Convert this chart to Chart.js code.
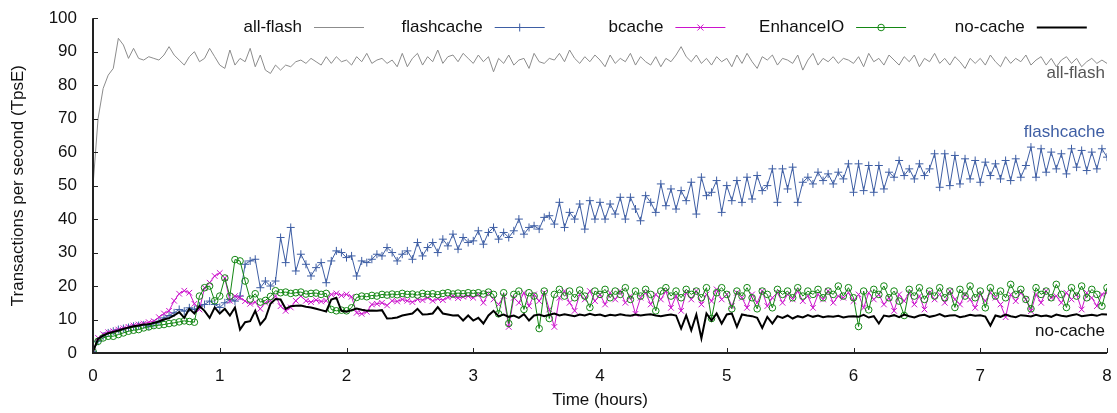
<!DOCTYPE html>
<html>
<head>
<meta charset="utf-8">
<script src="https://cdn.jsdelivr.net/npm/chart.js@4/dist/chart.umd.min.js"></script>
<style>
  html, body { margin: 0; padding: 0; background: #fff; }
  #wrap { width: 1117px; height: 413px; }
</style>
</head>
<body>
<div id="wrap"><canvas id="chart" width="1117" height="413"></canvas></div>
<script>
// sampling interval of the run, in hours (one row below = one hour)
const STEP_HOURS = 0.04;
const X_TICKS = [0, 1, 2, 3, 4, 5, 6, 7, 8];
const Y_TICKS = [0, 10, 20, 30, 40, 50, 60, 70, 80, 90, 100];

const allFlash = [
    50, 70, 79, 83, 85, 94, 92, 88, 91, 88, 87.5, 88.5, 88, 87.5, 89, 91.5, 89, 87.5, 86, 88.5, 90, 87, 88, 91, 88.5,
    86, 85, 90.5, 86, 88, 87, 91, 85.5, 89, 84.5, 83.5, 86, 84.5, 86, 85.5, 87, 87.5, 86.5, 88, 87, 86, 88.5, 86.5, 88.5, 87,
    87.5, 86, 88.5, 87, 89.5, 86.5, 87.5, 88, 86.5, 87.5, 85.5, 89.5, 85.5, 88, 89.5, 86, 88.5, 87, 90.5, 86.5, 88.5, 89, 87, 89.5, 88,
    86.5, 89, 87, 88.5, 84, 88, 86.5, 89, 86, 87.5, 88, 85, 89.5, 87, 86.5, 88, 87.5, 89.5, 87, 90.5, 88, 86.5, 88.5, 87, 89,
    87.5, 85.5, 89, 86.5, 88, 87, 89.5, 86, 88.5, 87, 86, 88.5, 85.5, 88, 87, 89, 91.5, 88.5, 87, 89, 86.5, 88, 86, 88.5, 87,
    88, 85.5, 89, 86.5, 89.5, 87, 85, 88.5, 87.5, 89, 86, 88, 87.5, 86.5, 89, 84.5, 87.5, 89.5, 86, 88, 87, 88.5, 86.5, 88, 87.5,
    86.5, 88.5, 85.5, 89.5, 87, 88, 86, 89, 87.5, 86, 88.5, 87, 89, 85.5, 88, 87, 89.5, 86.5, 88, 86, 88.5, 87, 85, 88, 86.5,
    88, 86, 89, 87, 85.5, 88.5, 86.5, 88, 87, 89, 86, 87.5, 88.5, 86, 88, 85.5, 87.5, 88.5, 86.5, 88, 85.5, 87, 88, 86.5, 87.5,
    86.5
];

const flashcache = [
    0.5, 3.5, 5, 6, 6.5, 7, 7.3, 7.6, 8, 8.2, 8.4, 8, 8.8, 9.5, 10.5, 11.2, 12, 13, 12.5, 13.5, 13, 14, 14.5, 15.5, 14.5,
    13.6, 15, 16, 15.5, 17, 26.5, 27.5, 28, 19.5, 21.5, 20, 21.5, 34.5, 27, 37.5, 24.5, 29.5, 26.5, 23, 25.5, 27, 21, 27.5, 30.5, 30,
    28.5, 29, 23, 27.5, 27, 28, 29.5, 29, 31.5, 30, 27.5, 29.5, 30.5, 28, 33, 29, 31.5, 33, 30, 34, 32, 35.5, 31, 34.5, 33,
    33.5, 36.5, 32.5, 36, 37.5, 34, 36, 34.5, 36.5, 40, 35.5, 37.5, 38, 37, 40.5, 41, 38.5, 45, 37.5, 42, 40, 44.5, 37, 45.5, 40,
    45, 40, 44.5, 41.5, 46.5, 40, 46.5, 43, 39.5, 47, 45, 42, 50.5, 44, 49, 43, 48.5, 45.5, 51, 41.5, 52.5, 47, 48, 51.5, 42,
    50, 45.5, 51.5, 45, 52.5, 46, 53, 48.5, 50, 55, 45, 55, 49, 55.5, 45, 51, 52.5, 50.5, 54, 51.5, 53.5, 50.5, 54, 52, 56.5,
    48, 56.5, 48.5, 56, 48, 56, 49, 54, 52.5, 57.5, 53, 55, 52, 56.5, 53, 55, 59.5, 49.5, 59.5, 50, 59, 50.5, 58, 52, 57.5,
    51, 57, 53, 56.5, 52, 57.5, 51.5, 58, 52.5, 56, 61.5, 52.5, 61, 54, 60, 55, 59.5, 53.5, 61, 55.5, 60.5, 54.5, 60, 55, 61,
    58.5
];

const bcache = [
    0.5, 4.5, 5.6, 6.2, 6.5, 7, 7.4, 7.8, 8.2, 8.5, 8.8, 9.2, 9.5, 10.7, 11.8, 12.6, 15.6, 17.7, 18.6, 18, 14.7, 13, 19.5, 21, 23,
    23.9, 22.4, 15.6, 17, 16.5, 15.5, 14.7, 15.2, 13.2, 15, 15.6, 17, 14, 12.6, 13.6, 15.6, 17, 15.6, 15.2, 15.8, 15.4, 15.6, 17.5, 17.8, 17.2,
    17.5, 16.8, 12, 11.7, 12.3, 14.5, 14.7, 15, 14.2, 15.6, 15.4, 16, 15.6, 15.2, 16, 15.8, 16.5, 15.6, 16.2, 15.8, 16.6, 17, 16.4, 16.8, 17,
    16.5, 17.5, 15, 17.8, 16, 14.5, 17, 7.8, 16.5, 15, 18, 14, 17.5, 15.5, 18, 13, 7.8, 16.5, 18.5, 15, 12.6, 17.5, 16, 18.5, 15.5,
    17.5, 14.5, 18, 16, 18.5, 15, 17, 11.7, 16.5, 18, 14.5, 17.5, 16, 18.5, 13.5, 17, 12.6, 18, 16, 18.5, 14.5, 17.5, 15.5, 19, 16,
    17.5, 14, 18, 16.5, 13.5, 17.5, 15, 18.5, 14, 16.5, 18, 15, 17.5, 16, 18.5, 15.5, 17, 13.5, 17.5, 16, 18.5, 15, 17, 16.5, 18,
    15.5, 17.5, 13.5, 18, 16, 17.5, 14.5, 16.5, 12.6, 17.5, 15.5, 18, 14.5, 17, 13, 18, 16, 17.5, 15, 18.5, 16, 14.5, 17.5, 16, 13.5,
    17.5, 15.5, 18, 16.5, 14.5, 10.7, 17.5, 15.5, 18, 16, 12.5, 17.5, 15, 18.5, 16.5, 17, 15, 18, 16, 17.5, 13, 18, 16.5, 14, 17.5,
    18
];

const enhanceIO = [
    0.5, 3.5, 4.5, 5, 5, 5.5, 6, 6.5, 6.8, 7, 7.5, 7.8, 8.2, 8.3, 8.5, 8.8, 9, 9.3, 9.6, 9.4, 9.2, 17, 19.5, 20, 15.6,
    17, 22.4, 17, 27.9, 27.5, 21.5, 16.1, 17.7, 15.2, 15.7, 16.9, 18.6, 18, 18.2, 17.8, 18, 18.2, 17.6, 17.8, 17.9, 17.5, 17.8, 13, 12.6, 12.8,
    12.6, 13.5, 16.6, 17, 16.8, 17.2, 17, 17.5, 17.3, 17.6, 17.4, 17.8, 17.5, 17.6, 17.3, 17.8, 17.5, 17.7, 17.4, 17.8, 18, 17.6, 17.9, 17.7, 18,
    17.8, 18, 17.6, 18.2, 17.5, 11.7, 18, 8.8, 17.5, 18.5, 13, 18, 17, 7.3, 18.5, 10.3, 17.5, 19, 17, 18.5, 16.5, 18.8, 17, 13.6, 18.5,
    17.5, 19, 16.5, 18.5, 17.5, 19.5, 16, 18.5, 17, 19, 17.5, 12.6, 18.5, 19.5, 17, 18.5, 16.5, 19, 17.5, 18.5, 16.5, 19.5, 10.3, 18, 19.5,
    17.5, 13.2, 18.5, 17, 19.5, 16.5, 13.2, 18.5, 17.5, 13.5, 19, 17.5, 18.5, 16.5, 19.5, 17, 18.5, 17.5, 19, 16.5, 18.5, 17.5, 20, 17, 19.5,
    16.5, 7.9, 18.5, 12.9, 19, 17.5, 20, 16.5, 18.5, 15.5, 11.2, 19, 17, 19.5, 16, 18.5, 17, 19.5, 16.5, 18.5, 13.6, 19, 17, 20, 16.5,
    18.5, 13.5, 19.5, 17, 18.5, 16.5, 20.5, 17.5, 19, 16, 13.2, 19.5, 17.5, 18.5, 16.5, 20.5, 17.5, 13.6, 19.5, 17, 20, 16.5, 19, 17.5, 14,
    19.5
];

const noCache = [
    0.5, 4.2, 5.2, 5.9, 6.3, 6.7, 7.2, 7.6, 8, 8.2, 8.5, 8.6, 9, 9.4, 10, 10.4, 11.2, 12.2, 10.5, 13.2, 11.8, 14, 12.6, 10.5, 13.6,
    11.8, 13.2, 11.2, 13.6, 7, 9.2, 9.5, 12.6, 8.5, 10.3, 14.7, 16.1, 16, 13.2, 14, 14.1, 14.2, 13.8, 13.6, 13.2, 12.8, 12.4, 16, 16.5, 12.6,
    12.3, 12.8, 13.3, 12.9, 12.6, 12.7, 12.6, 12.8, 10.3, 10.4, 10.6, 11.2, 11.5, 11.8, 13.2, 11.5, 11.6, 11.8, 13.7, 11.8, 11.5, 11.2, 11.3, 9.7, 11.2,
    9.7, 10.5, 8.8, 11.2, 12.6, 11, 11.5, 10.8, 11.2, 10.5, 11.6, 9.7, 11.2, 11.5, 11, 11.4, 11.8, 11.2, 11.6, 11.3, 11.0, 11.5, 11.2, 11.7, 11.3,
    11.5, 11.0, 11.4, 11.2, 11.6, 11.3, 11.1, 11.5, 11.2, 11.4, 11.6, 11.2, 11.0, 11.3, 11.5, 11.2, 7.3, 11.2, 6.8, 11.5, 4.4, 11.8, 9.7, 11.8, 8.8,
    11.5, 11.8, 7.8, 11.5, 11.2, 11.0, 10.5, 7.5, 10.8, 8.8, 11.0, 10.5, 11.2, 10.3, 11.0, 10.6, 11.3, 10.8, 11.2, 10.7, 11.0, 10.8, 11.1, 10.6, 10.9,
    11.0, 10.8, 11.4, 10.6, 11.0, 8.8, 11.2, 10.9, 11.3, 10.7, 11.5, 11.0, 10.6, 11.2, 11.4, 10.8, 11.1, 11.6, 10.9, 11.2, 11.3, 10.7, 11.0, 11.4, 11.1,
    11.3, 10.9, 8.2, 11.2, 10.8, 11.5, 11.0, 10.7, 11.3, 11.1, 10.9, 11.4, 11.0, 11.2, 10.8, 11.5, 11.1, 10.9, 11.3, 11.6, 11.0, 11.2, 11.4, 11.1, 11.6,
    11.5
];

const COLOR_ALLFLASH = 'rgb(140, 140, 140)';
const COLOR_FLASHCACHE = 'rgb(62, 94, 164)';
const COLOR_BCACHE = 'rgb(204, 20, 204)';
const COLOR_ENHANCEIO = 'rgb(20, 135, 20)';
const COLOR_NOCACHE = '#000000';
const FONT_FAMILY = '"Liberation Sans", Arial, Helvetica, sans-serif';
const FONT_SIZE = 17;

function toPoints(values) {
    return values.map((value, i) => ({ x: i * STEP_HOURS, y: value }));
}

function drawMarker(ctx, style, x, y) {
    ctx.beginPath();
    if (style === 'cross') {
        ctx.moveTo(x - 4, y); ctx.lineTo(x + 4, y);
        ctx.moveTo(x, y - 4); ctx.lineTo(x, y + 4);
    } else if (style === 'crossRot') {
        ctx.moveTo(x - 3, y - 3); ctx.lineTo(x + 3, y + 3);
        ctx.moveTo(x - 3, y + 3); ctx.lineTo(x + 3, y - 3);
    } else if (style === 'circle') {
        ctx.arc(x, y, 3.3, 0, Math.PI * 2);
    }
    ctx.stroke();
}

const legendEntries = [
    { label: 'all-flash', color: COLOR_ALLFLASH, width: 1, marker: null },
    { label: 'flashcache', color: COLOR_FLASHCACHE, width: 1, marker: 'cross' },
    { label: 'bcache', color: COLOR_BCACHE, width: 1, marker: 'crossRot' },
    { label: 'EnhanceIO', color: COLOR_ENHANCEIO, width: 1, marker: 'circle' },
    { label: 'no-cache', color: COLOR_NOCACHE, width: 2, marker: null }
];

const endLabels = [
    { text: 'all-flash', color: '#555555', y: 73 },
    { text: 'flashcache', color: 'rgb(62, 94, 164)', y: 132 },
    { text: 'no-cache', color: '#111111', y: 331 }
];

// gnuplot-like frame: left + bottom border, inward ticks, key and end labels
const decorPlugin = {
    id: 'decor',
    afterDraw(chart) {
        const { ctx, chartArea: area, scales } = chart;
        ctx.save();

        ctx.strokeStyle = '#222';
        ctx.lineWidth = 1;
        ctx.beginPath();
        Y_TICKS.forEach((value) => {
            const py = Math.round(scales.y.getPixelForValue(value)) + 0.5;
            ctx.moveTo(area.left, py);
            ctx.lineTo(area.left + 5, py);
        });
        X_TICKS.forEach((value) => {
            const px = Math.round(scales.x.getPixelForValue(value)) + 0.5;
            ctx.moveTo(px, area.bottom);
            ctx.lineTo(px, area.bottom - 5);
        });
        ctx.stroke();

        ctx.lineWidth = 2;
        ctx.beginPath();
        ctx.moveTo(area.left, area.top);
        ctx.lineTo(area.left, area.bottom);
        ctx.lineTo(area.right, area.bottom);
        ctx.stroke();

        ctx.font = `${FONT_SIZE}px ${FONT_FAMILY}`;
        ctx.textBaseline = 'middle';
        ctx.textAlign = 'right';

        const legendY = 27.5;
        const columnWidth = 180.7;
        const firstSampleEnd = 364;
        legendEntries.forEach((entry, i) => {
            const sampleEnd = firstSampleEnd + i * columnWidth;
            const sampleStart = sampleEnd - 50;
            ctx.fillStyle = '#111';
            ctx.fillText(entry.label, sampleStart - 12, legendY);
            ctx.strokeStyle = entry.color;
            ctx.lineWidth = entry.width;
            ctx.beginPath();
            ctx.moveTo(sampleStart, legendY);
            ctx.lineTo(sampleEnd, legendY);
            ctx.stroke();
            if (entry.marker) {
                ctx.lineWidth = 1;
                drawMarker(ctx, entry.marker, (sampleStart + sampleEnd) / 2, legendY);
            }
        });

        endLabels.forEach((label) => {
            ctx.fillStyle = label.color;
            ctx.fillText(label.text, area.right - 2, label.y);
        });

        ctx.restore();
    }
};

const ctx = document.getElementById('chart').getContext('2d');
new Chart(ctx, {
    type: 'line',
    data: {
        datasets: [
            {
                label: 'no-cache',
                data: toPoints(noCache),
                borderColor: COLOR_NOCACHE,
                borderWidth: 2,
                pointRadius: 0,
                order: 0
            },
            {
                label: 'EnhanceIO',
                data: toPoints(enhanceIO),
                borderColor: COLOR_ENHANCEIO,
                borderWidth: 1,
                pointStyle: 'circle',
                pointRadius: 3.3,
                pointBorderWidth: 1,
                pointBorderColor: COLOR_ENHANCEIO,
                pointBackgroundColor: 'rgba(0, 0, 0, 0)',
                order: 1
            },
            {
                label: 'bcache',
                data: toPoints(bcache),
                borderColor: COLOR_BCACHE,
                borderWidth: 1,
                pointStyle: 'crossRot',
                pointRadius: 4,
                pointBorderWidth: 1,
                pointBorderColor: COLOR_BCACHE,
                order: 2
            },
            {
                label: 'flashcache',
                data: toPoints(flashcache),
                borderColor: COLOR_FLASHCACHE,
                borderWidth: 1,
                pointStyle: 'cross',
                pointRadius: 4,
                pointBorderWidth: 1,
                pointBorderColor: COLOR_FLASHCACHE,
                order: 3
            },
            {
                label: 'all-flash',
                data: toPoints(allFlash),
                borderColor: COLOR_ALLFLASH,
                borderWidth: 1,
                pointRadius: 0,
                order: 4
            }
        ]
    },
    options: {
        responsive: false,
        animation: false,
        devicePixelRatio: 1,
        layout: {
            padding: { top: 13, right: 10, bottom: 0, left: 0 }
        },
        elements: {
            line: { tension: 0, fill: false }
        },
        plugins: {
            legend: { display: false },
            tooltip: { enabled: false }
        },
        scales: {
            x: {
                type: 'linear',
                min: 0,
                max: 8,
                afterFit: (scale) => { scale.height = 60; },
                afterBuildTicks: (scale) => { scale.ticks = X_TICKS.map((value) => ({ value })); },
                grid: { display: false },
                border: { display: false },
                ticks: {
                    color: '#111',
                    padding: 5,
                    maxRotation: 0,
                    font: { family: FONT_FAMILY, size: FONT_SIZE }
                },
                title: {
                    display: true,
                    text: 'Time (hours)',
                    color: '#111',
                    padding: { top: 0, bottom: 2 },
                    font: { family: FONT_FAMILY, size: FONT_SIZE }
                }
            },
            y: {
                min: 0,
                max: 100,
                afterFit: (scale) => { scale.width = 93; },
                afterBuildTicks: (scale) => { scale.ticks = Y_TICKS.map((value) => ({ value })); },
                grid: { display: false },
                border: { display: false },
                ticks: {
                    color: '#111',
                    padding: 8,
                    font: { family: FONT_FAMILY, size: FONT_SIZE }
                },
                title: {
                    display: true,
                    text: 'Transactions per second (TpsE)',
                    color: '#111',
                    padding: { top: 8, bottom: 0 },
                    font: { family: FONT_FAMILY, size: FONT_SIZE }
                }
            }
        }
    },
    plugins: [decorPlugin]
});
</script>
</body>
</html>
